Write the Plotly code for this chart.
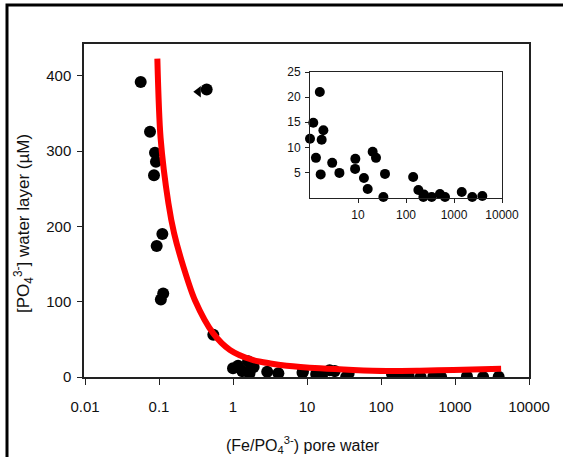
import plotly.graph_objects as go

# ---- data ----
# high-phosphate points (Fe/PO4 < 1)
x_high = [0.0566, 0.0756, 0.0883, 0.091, 0.0856, 0.111, 0.093, 0.114, 0.106, 0.542, 0.441]
y_high = [392, 326, 298, 286, 268, 190, 174, 111, 103, 56, 382]
x_tri = [0.34]
y_tri = [379]
# low-phosphate points (shown in both main plot and inset)
x_low = [1.0, 1.17, 1.6, 1.33, 1.67, 1.9, 1.75, 2.9, 4.1, 8.8, 8.7, 13.3, 15.9, 20.2, 23.7,
         36.5, 33.8, 141, 181, 237, 230, 343, 510, 650, 1450, 2400, 3890]
y_low = [11.7, 14.9, 21.0, 7.9, 4.6, 13.4, 11.5, 6.9, 4.9, 7.7, 5.7, 3.9, 1.7, 9.1, 7.9,
         4.7, 0.1, 4.1, 1.5, 0.6, 0.1, 0.1, 0.7, 0.1, 1.1, 0.1, 0.3]
# fitted curve
x_fit = [0.095, 0.105, 0.134, 0.16, 0.213, 0.306, 0.54, 0.91, 1.8, 3.2, 5.3, 15, 42, 119, 336, 949, 4200]
y_fit = [423, 318, 231, 191, 147, 102, 58, 36, 23, 18, 15, 11.5, 9.3, 8, 8.4, 9.3, 11]

x_ticks = [0.01, 0.1, 1, 10, 100, 1000, 10000]
x_ticktext = ["0.01", "0.1", "1", "10", "100", "1000", "10000"]
y_ticks = [0, 100, 200, 300, 400]
inset_x_ticks = [10, 100, 1000, 10000]
inset_x_ticktext = ["10", "100", "1000", "10000"]
inset_y_ticks = [5, 10, 15, 20, 25]

FONT = "Liberation Sans, Arial, sans-serif"
W, H = 563, 457
L, R, T, B = 84, 529, 44, 377

def px(xp):
    return (xp - L) / (R - L)

def py(yp):
    return (B - yp) / (B - T)

fig = go.Figure()

fig.add_trace(go.Scatter(x=x_high + x_low, y=y_high + y_low, mode="markers",
                         marker=dict(color="black", size=12, symbol="circle"),
                         xaxis="x", yaxis="y", showlegend=False))
fig.add_trace(go.Scatter(x=x_tri, y=y_tri, mode="markers",
                         marker=dict(color="black", size=10, symbol="triangle-left"),
                         xaxis="x", yaxis="y", showlegend=False))
fig.add_trace(go.Scatter(x=x_fit, y=y_fit, mode="lines",
                         line=dict(color="#ff0000", width=6, shape="spline", smoothing=0.8),
                         xaxis="x", yaxis="y", showlegend=False))
fig.add_trace(go.Scatter(x=x_low, y=y_low, mode="markers",
                         marker=dict(color="black", size=10, symbol="circle"),
                         cliponaxis=False,
                         xaxis="x2", yaxis="y2", showlegend=False))

axis_common = dict(showline=True, linecolor="#222", mirror=True, showgrid=False,
                   zeroline=False, ticks="outside", tickcolor="#222")

fig.update_layout(
    width=W, height=H,
    margin=dict(l=L, r=W - R, t=T, b=H - B, pad=0),
    paper_bgcolor="white", plot_bgcolor="white",
    font=dict(family=FONT, color="#111"),
    xaxis=dict(type="log", range=[-2.0135, 4.0], tickvals=x_ticks, ticktext=x_ticktext,
               ticklen=6, linewidth=1.5, tickwidth=1.2, tickfont=dict(size=15),
               ticklabelstandoff=9, **axis_common),
    yaxis=dict(range=[0, 442.5], tickvals=y_ticks, ticklen=5, linewidth=1.5, tickwidth=1.2,
               tickfont=dict(size=15), ticklabelstandoff=3, **axis_common),
    xaxis2=dict(type="log", range=[0, 4], domain=[px(310), px(502)], anchor="y2",
                tickvals=inset_x_ticks, ticktext=inset_x_ticktext, ticklen=4,
                linewidth=1, tickwidth=1, tickfont=dict(size=12), ticklabelstandoff=2,
                **axis_common),
    yaxis2=dict(range=[0, 25], domain=[py(197.5), py(72)], anchor="x2",
                tickvals=inset_y_ticks, ticklen=4, linewidth=1, tickwidth=1,
                tickfont=dict(size=12), ticklabelstandoff=2, **axis_common),
    shapes=[dict(type="rect", xref="paper", yref="paper",
                 x0=px(7), x1=px(580), y0=py(480), y1=py(5),
                 line=dict(color="black", width=3), fillcolor="rgba(0,0,0,0)")],
    annotations=[
        dict(text="[PO<sub>4</sub><sup>3-</sup>] water layer (µM)", textangle=-90,
             xref="paper", yref="paper", x=px(23), y=py(224), xanchor="center", yanchor="middle",
             showarrow=False, font=dict(size=17, family=FONT, color="#111")),
        dict(text="(Fe/PO<sub>4</sub><sup>3-</sup>) pore water",
             xref="paper", yref="paper", x=px(303), y=py(445), xanchor="center", yanchor="middle",
             showarrow=False, font=dict(size=16, family=FONT, color="#111")),
    ],
)

fig.write_html("out.html")
